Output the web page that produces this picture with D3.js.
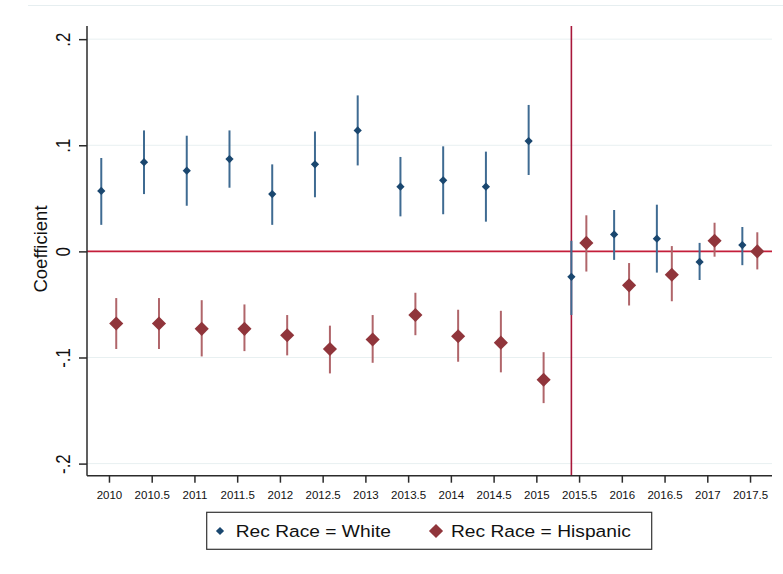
<!DOCTYPE html>
<html>
<head>
<meta charset="utf-8">
<script src="https://cdn.jsdelivr.net/npm/d3@7"></script>
<style>
  html, body { margin: 0; padding: 0; background: #fff; }
  svg { display: block; font-family: "Liberation Sans", Arial, sans-serif; }
</style>
</head>
<body>
<svg id="chart" width="783" height="574"></svg>
<script>
// ---- data ----
const periods = [2010, 2010.5, 2011, 2011.5, 2012, 2012.5, 2013, 2013.5, 2014, 2014.5, 2015, 2015.5, 2016, 2016.5, 2017, 2017.5];
const xTickLabels = ["2010","2010.5","2011","2011.5","2012","2012.5","2013","2013.5","2014","2014.5","2015","2015.5","2016","2016.5","2017","2017.5"];
const yTicks = [0.2, 0.1, 0, -0.1, -0.2];
const yTickLabels = [".2", ".1", "0", "-.1", "-.2"];

const whiteCoef = [0.057, 0.084, 0.076, 0.087, 0.054, 0.082, 0.114, 0.061, 0.067, 0.061, 0.104, -0.024, 0.016, 0.012, -0.010, 0.006];
const whiteLo   = [0.025, 0.054, 0.043, 0.060, 0.025, 0.051, 0.081, 0.033, 0.035, 0.028, 0.072, -0.060, -0.008, -0.020, -0.027, -0.013];
const whiteHi   = [0.088, 0.114, 0.109, 0.114, 0.082, 0.113, 0.147, 0.089, 0.099, 0.094, 0.138, 0.010, 0.039, 0.044, 0.008, 0.023];

const hispCoef = [-0.068, -0.068, -0.073, -0.073, -0.079, -0.092, -0.083, -0.060, -0.080, -0.086, -0.121, 0.008, -0.032, -0.022, 0.010, 0.000];
const hispLo   = [-0.092, -0.092, -0.099, -0.094, -0.098, -0.115, -0.105, -0.079, -0.104, -0.114, -0.143, -0.019, -0.051, -0.047, -0.005, -0.017];
const hispHi   = [-0.044, -0.044, -0.046, -0.050, -0.060, -0.070, -0.060, -0.039, -0.055, -0.056, -0.095, 0.034, -0.011, 0.005, 0.027, 0.018];

const cutoff = 2015.41;
const legendLabels = ["Rec Race = White", "Rec Race = Hispanic"];

// ---- layout ----
const svg = d3.select("#chart");
const pLeft = 87, pRight = 772, pTop = 26, pBottom = 475.7;
const x = d3.scaleLinear().domain([2009.743, 2017.757]).range([pLeft, pRight]);
const y = d3.scaleLinear().domain([-0.2114, 0.2124]).range([pBottom, pTop]);

const navy = "#1a476f", navyCI = "#3f6b92";
const maroon = "#90353b", maroonCI = "#b0656a";

// faint outer frame line
svg.append("line").attr("x1", 28).attr("x2", 783).attr("y1", 5.5).attr("y2", 5.5)
  .attr("stroke", "#e6eef0").attr("stroke-width", 1);

// gridlines
svg.append("g").selectAll("line").data(yTicks.filter(d => d !== 0)).join("line")
  .attr("x1", pLeft).attr("x2", pRight)
  .attr("y1", d => y(d)).attr("y2", d => y(d))
  .attr("stroke", "#e8f0f1").attr("stroke-width", 1);

// zero line
svg.append("line").attr("x1", pLeft).attr("x2", pRight)
  .attr("y1", y(0)).attr("y2", y(0))
  .attr("stroke", "#c41e3a").attr("stroke-width", 1.6);

// cutoff line
svg.append("line").attr("x1", x(cutoff)).attr("x2", x(cutoff))
  .attr("y1", pTop).attr("y2", pBottom)
  .attr("stroke", "#a8173a").attr("stroke-width", 1.6);

// axes
const yAxis = d3.axisLeft(y).tickValues(yTicks).tickSize(8).tickFormat("");
const gy = svg.append("g").attr("transform", `translate(${pLeft},0)`).call(yAxis);
gy.select(".domain").attr("stroke", "#2b2b2b").attr("stroke-width", 1.5).attr("d", `M0,${pTop}V${pBottom}`);
gy.selectAll(".tick line").attr("stroke", "#2b2b2b").attr("stroke-width", 1.5);

gy.selectAll(".tick").append("text")
  .attr("fill", "#111")
  .attr("stroke", "none")
  .attr("font-size", 21)
  .attr("text-anchor", "middle")
  .attr("transform", "translate(-17,0) rotate(-90) scale(0.8,1)")
  .text((d, i) => yTickLabels[i]);

const xAxis = d3.axisBottom(x).tickValues(periods).tickSize(7).tickFormat("");
const gx = svg.append("g").attr("transform", `translate(0,${pBottom})`).call(xAxis);
gx.select(".domain").attr("stroke", "#2b2b2b").attr("stroke-width", 1.5).attr("d", `M${pLeft},0H${pRight}`);
gx.selectAll(".tick line").attr("stroke", "#2b2b2b").attr("stroke-width", 1.5);
gx.selectAll(".tick").append("text")
  .attr("fill", "#111")
  .attr("font-size", 11.5)
  .attr("text-anchor", "middle")
  .attr("y", 23)
  .text((d, i) => xTickLabels[i]);

// y title
svg.append("text")
  .attr("transform", `translate(46.5,249) rotate(-90)`)
  .attr("text-anchor", "middle")
  .attr("font-size", 18.5)
  .attr("fill", "#111")
  .text("Coefficient");

// series
const diamond = (size) => d3.symbol().type(d3.symbolSquare).size(size)();

function drawSeries(coef, lo, hi, offset, colMark, colCI, size) {
  const g = svg.append("g");
  g.selectAll("line").data(periods).join("line")
    .attr("x1", (d) => x(d + offset)).attr("x2", (d) => x(d + offset))
    .attr("y1", (d, i) => y(lo[i])).attr("y2", (d, i) => y(hi[i]))
    .attr("stroke", colCI).attr("stroke-width", 2);
  g.selectAll("path").data(periods).join("path")
    .attr("d", diamond(size))
    .attr("transform", (d, i) => `translate(${x(d + offset)},${y(coef[i])}) rotate(45)`)
    .attr("fill", colMark);
}
drawSeries(whiteCoef, whiteLo, whiteHi, -0.09, navy, navyCI, 34);
drawSeries(hispCoef, hispLo, hispHi, 0.085, maroon, maroonCI, 100);

// legend
const lg = svg.append("g");
lg.append("rect").attr("x", 206.7).attr("y", 512.3).attr("width", 445).attr("height", 37)
  .attr("fill", "#fff").attr("stroke", "#333").attr("stroke-width", 1.2);
lg.append("path").attr("d", diamond(34)).attr("transform", "translate(220,531) rotate(45)").attr("fill", navy);
lg.append("path").attr("d", diamond(100)).attr("transform", "translate(436,531) rotate(45)").attr("fill", maroon);
lg.append("text").attr("transform", "translate(235.7,537.3) scale(1.13,1)")
  .attr("font-size", 17).attr("fill", "#111").text(legendLabels[0]);
lg.append("text").attr("transform", "translate(451,537.3) scale(1.13,1)")
  .attr("font-size", 17).attr("fill", "#111").text(legendLabels[1]);
</script>
</body>
</html>
